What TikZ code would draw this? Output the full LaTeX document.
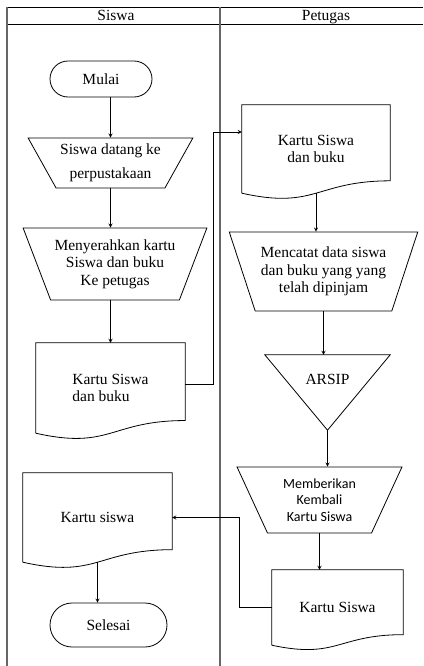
\documentclass[tikz,border=0pt]{standalone}
\usepackage{fontspec}
\setmainfont{Liberation Serif}
\newfontfamily\calibri{Carlito}
\usetikzlibrary{positioning}
\usetikzlibrary{calc}
\usetikzlibrary{shapes.geometric}
\tikzset{%
  arr/.style = {-stealth,line width=0.8pt},
  term/.style = {rectangle,draw,rounded corners=18pt,line width=0.8pt},
  io/.style = {trapezium,draw,trapezium stretches=true,
        shape border rotate=180,inner sep=1pt,align=center,line width=0.8pt},
  doc/.style = {rectangle,align=center},
  tri/.style = {rectangle},
  lane/.style = {draw=black!60,line width=1.5pt}
}
% outline of a document symbol drawn round a named node
\newcommand{\docline}[1]{%
  \draw[line width=0.8pt] (#1.south west) -- (#1.north west) -- (#1.north east)
    -- ($(#1.north east)!0.86!(#1.south east)$)
    .. controls ($(#1.north)!0.86!(#1.south)$) and ($(#1.north)!1.187!(#1.south)$) .. (#1.south west);}

\begin{document}
\begin{tikzpicture}[x=1pt,y=-1pt,font=\fontsize{15.5}{17.5}\selectfont]
    \useasboundingbox (0,0) rectangle (423,666);
    % lanes
    \draw (7,7) -- (423,7);
    \draw (7,24) -- (423,24);
    \draw[lane] (7,7) -- (7,666);
    \draw[lane] (220,7) -- (220,666);
    \node[anchor=base] (hsiswa) at (116,21) {Siswa};
    \node[anchor=base] (hpetugas) at (326,21) {Petugas};

    % Siswa
    \node[term,minimum width=102pt,minimum height=36pt] (mulai) at (101,79) {Mulai};
    \node[io,minimum width=165pt,minimum height=50pt,trapezium angle=57]
        (datang) at (110.5,163) {Siswa datang ke\\[7pt]perpustakaan};
    \node[io,minimum width=184pt,minimum height=72pt,trapezium angle=62.8]
        (serah) at (115,264) {Menyerahkan kartu\\Siswa dan buku\\Ke petugas};
    \node[doc,align=left,minimum width=149pt,minimum height=90pt]
        (kartua) at (110.5,388) {Kartu Siswa\\dan buku};
    \node[doc,minimum width=149pt,minimum height=89pt] (kartud) at (97.5,517.5) {Kartu siswa};
    \node[term,minimum width=117pt,minimum height=44pt,rounded corners=22pt]
        (selesai) at (108.5,625) {Selesai};

    % Petugas
    \node[doc,minimum width=148pt,minimum height=88pt] (kartub) at (316,149) {Kartu Siswa\\dan buku};
    \node[io,minimum width=189pt,minimum height=79pt,trapezium angle=64.6]
        (catat) at (323.5,271.5) {Mencatat data siswa\\dan buku yang yang\\telah dipinjam};
    \node[tri,minimum width=125pt,minimum height=75pt] (arsip) at (327.5,392.5) {};
    \node (arsiplbl) at ([yshift=13.5pt]arsip.center) {ARSIP};
    \node[io,minimum width=165pt,minimum height=66pt,trapezium angle=64,
        font=\calibri\fontsize{14}{16.5}\selectfont]
        (beri) at (319.5,500) {Memberikan\\Kembali\\Kartu Siswa};
    \node[doc,minimum width=131pt,minimum height=75pt] (kartuc) at (337.5,607.5) {Kartu Siswa};

    \docline{kartua}
    \docline{kartub}
    \docline{kartuc}
    \docline{kartud}
    \draw[line width=0.8pt] (arsip.north west) -- (arsip.north east) -- (arsip.south) -- cycle;

    % arrows
    \draw[arr] (mulai.south -| datang.north) -- (datang.north);
    \draw[arr] (datang.south) -- (datang.south |- serah.north);
    \draw[arr] (serah.south -| kartua.north) -- (kartua.north);
    \draw[arr] ([yshift=4pt]kartua.east) -- ++(28,0) |- ([yshift=17pt]kartub.west);
    \draw[arr] (kartub.south) -- (kartub.south |- catat.north);
    \draw[arr] (catat.south) -- (catat.south |- arsip.north);
    \draw[arr] (arsip.south) -- (arsip.south |- beri.north);
    \draw[arr] (beri.south) -- (beri.south |- kartuc.north);
    \draw[arr] (kartuc.west) -- ++(-32,0) |- (kartud.east);
    \draw[arr] (kartud.south) -- (kartud.south |- selesai.north);
\end{tikzpicture}
\end{document}
